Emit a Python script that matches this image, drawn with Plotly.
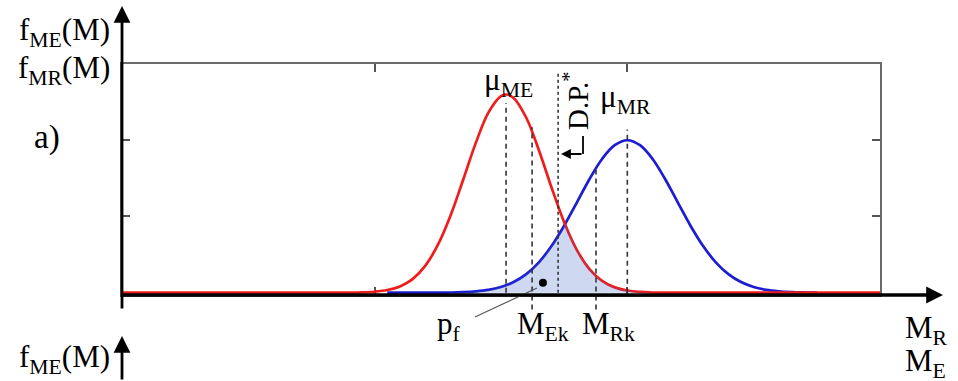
import plotly.graph_objects as go

# ---------------- data ----------------
# load-effect density f_ME (red) and resistance density f_MR (blue)
red_x = [0, 9.0, 9.5, 10, 10.5, 11, 11.5, 12, 12.5, 13, 13.5, 14, 14.5, 15, 15.2,
         15.5, 16, 16.5, 17, 17.5, 18, 18.5, 19, 19.5, 20, 20.5, 21, 21.5, 30]
red_y = [0, 0.001, 0.004, 0.013, 0.035, 0.083, 0.179, 0.352, 0.626, 1.010, 1.479,
         1.962, 2.363, 2.580, 2.600, 2.555, 2.295, 1.869, 1.381, 0.925, 0.562,
         0.310, 0.155, 0.070, 0.029, 0.011, 0.003, 0.001, 0]
blue_x = [10.5, 12.5, 13, 13.5, 14, 14.5, 15, 15.5, 16, 16.5, 17, 17.5, 18, 18.5,
          19, 19.5, 20, 20.5, 21, 21.5, 22, 22.5, 23, 23.5, 24, 24.5, 25, 25.5,
          26, 26.5, 27, 27.5]
blue_y = [0, 0.001, 0.003, 0.008, 0.018, 0.037, 0.075, 0.140, 0.244, 0.399, 0.612,
          0.879, 1.182, 1.488, 1.754, 1.935, 2.000, 1.935, 1.754, 1.488, 1.182,
          0.879, 0.612, 0.399, 0.244, 0.140, 0.075, 0.037, 0.018, 0.008, 0.003, 0]
crossing = [17.53, 0.91]          # where the two curves cross
pf_dot = [16.66, 0.13]            # black dot marking p_f
guide_names = ["mu_ME", "M_Ek", "DP", "M_Rk", "mu_MR"]
guide_x = [15.2, 16.23, 17.26, 18.76, 20.0]
guide_top = [2.49, 2.17, 2.90, 1.61, 2.14]
guide_bottom = [0.0, -0.22, 0.0, -0.22, 0.0]
x_ticks = [10, 20]
y_ticks = [1, 2]
x_range = [0, 30]
y_range = [-0.03, 3]

# ---------------- layout geometry ----------------
W, H = 958, 381
L, R, T, B = 122, 78, 64, 86
PW = W - L - R
PH = H - T - B


def px(x):
    return (x - L) / PW


def py(y):
    return (H - B - y) / PH


def ydat_to_paper(v):
    return (v - y_range[0]) / (y_range[1] - y_range[0])


RED = "#f01c1c"
BLUE = "#1c1cd2"
FONT = "Liberation Serif"

# overlap (failure) region: minimum of the two densities
red_map = dict(zip(red_x, red_y))
ov = [(x, min(yb, red_map[x])) for x, yb in zip(blue_x, blue_y) if x in red_map]
ov.append((crossing[0], crossing[1]))
ov.sort()
ov_x = [p[0] for p in ov]
ov_y = [p[1] for p in ov]

fig = go.Figure()
fig.add_trace(go.Scatter(x=blue_x, y=blue_y, mode="lines",
                         line=dict(color=BLUE, width=2.7, shape="spline"),
                         hoverinfo="skip"))
fig.add_trace(go.Scatter(x=red_x, y=red_y, mode="lines",
                         line=dict(color=RED, width=2.7, shape="spline"),
                         hoverinfo="skip"))
fig.add_trace(go.Scatter(x=ov_x, y=ov_y, mode="lines", fill="tozeroy",
                         fillcolor="rgba(60,100,200,0.25)",
                         line=dict(width=0, shape="spline"), hoverinfo="skip"))
fig.add_trace(go.Scatter(x=[pf_dot[0]], y=[pf_dot[1]], mode="markers",
                         marker=dict(color="black", size=8), hoverinfo="skip"))

shapes = []
for name, gx, gt, gb in zip(guide_names, guide_x, guide_top, guide_bottom):
    shapes.append(dict(type="line", xref="x", yref="paper", x0=gx, x1=gx,
                       y0=ydat_to_paper(gb), y1=ydat_to_paper(gt),
                       line=dict(color="#333333", width=1.6,
                                 dash="3px,3px" if name == "DP" else "5px,4px"),
                       layer="above"))
# black baseline of the M axis
shapes.append(dict(type="line", xref="paper", yref="paper", x0=px(122), x1=px(930),
                   y0=py(295), y1=py(295), line=dict(color="black", width=3)))
# L-shaped arrow next to D.P.*
shapes.append(dict(type="line", xref="paper", yref="paper", x0=px(583), x1=px(583),
                   y0=py(136), y1=py(154), line=dict(color="black", width=1.8)))
# leader line from p_f to the dot
shapes.append(dict(type="line", xref="paper", yref="paper", x0=px(475), x1=px(537),
                   y0=py(317), y1=py(288), line=dict(color="#555555", width=1.1)))

ann = []


def arrow(hx, hy, ax, ay, w=2.8, size=1.2):
    ann.append(dict(xref="paper", yref="paper", x=px(hx), y=py(hy), ax=ax, ay=ay,
                    text="", showarrow=True, arrowhead=2, arrowsize=size,
                    arrowwidth=w, arrowcolor="black", standoff=0, startstandoff=0))


arrow(122, 6, 0, 304)          # vertical axis, panel a
arrow(943, 295, -821, 0)       # horizontal axis
arrow(122, 336, 0, 60)         # vertical axis, panel b
arrow(561, 154, 22, 0, w=1.8, size=1.1)


def label(text, x, y, xa="left", ya="middle", size=31, angle=0):
    ann.append(dict(xref="paper", yref="paper", x=px(x), y=py(y), text=text,
                    showarrow=False, xanchor=xa, yanchor=ya, textangle=angle,
                    font=dict(family=FONT, size=size, color="black")))


label("f<sub>ME</sub>(M)", 112, 32, xa="right")
label("f<sub>MR</sub>(M)", 112, 70, xa="right")
label("a)", 47, 137, xa="center", size=33)
label("μ<sub>ME</sub>", 482, 82)
label("μ<sub>MR</sub>", 598, 99)
label("D.P.<sup>*</sup>", 576, 101, xa="center", angle=-90, size=29)
label("p<sub>f</sub>", 449, 326, xa="center")
label("M<sub>Ek</sub>", 515, 326)
label("M<sub>Rk</sub>", 580, 326)
label("M<sub>R</sub>", 903, 330)
label("M<sub>E</sub>", 903, 363)
label("f<sub>ME</sub>(M)", 112, 359, xa="right")
label("f<sub>MR</sub>(M)", 112, 398, xa="right")

axis_common = dict(showgrid=False, zeroline=False, showticklabels=False,
                   ticks="inside", ticklen=8, tickwidth=2, tickcolor="#555555",
                   showline=True, linecolor="#6a6a6a", linewidth=2,
                   mirror="ticks", layer="below traces", fixedrange=True)

fig.update_layout(
    width=W, height=H,
    margin=dict(l=L, r=R, t=T, b=B, pad=0),
    paper_bgcolor="white", plot_bgcolor="white",
    showlegend=False,
    xaxis=dict(range=x_range, tickvals=x_ticks, **axis_common),
    yaxis=dict(range=y_range, tickvals=y_ticks, **axis_common),
    shapes=shapes,
    annotations=ann,
)

fig.write_html("out.html")
